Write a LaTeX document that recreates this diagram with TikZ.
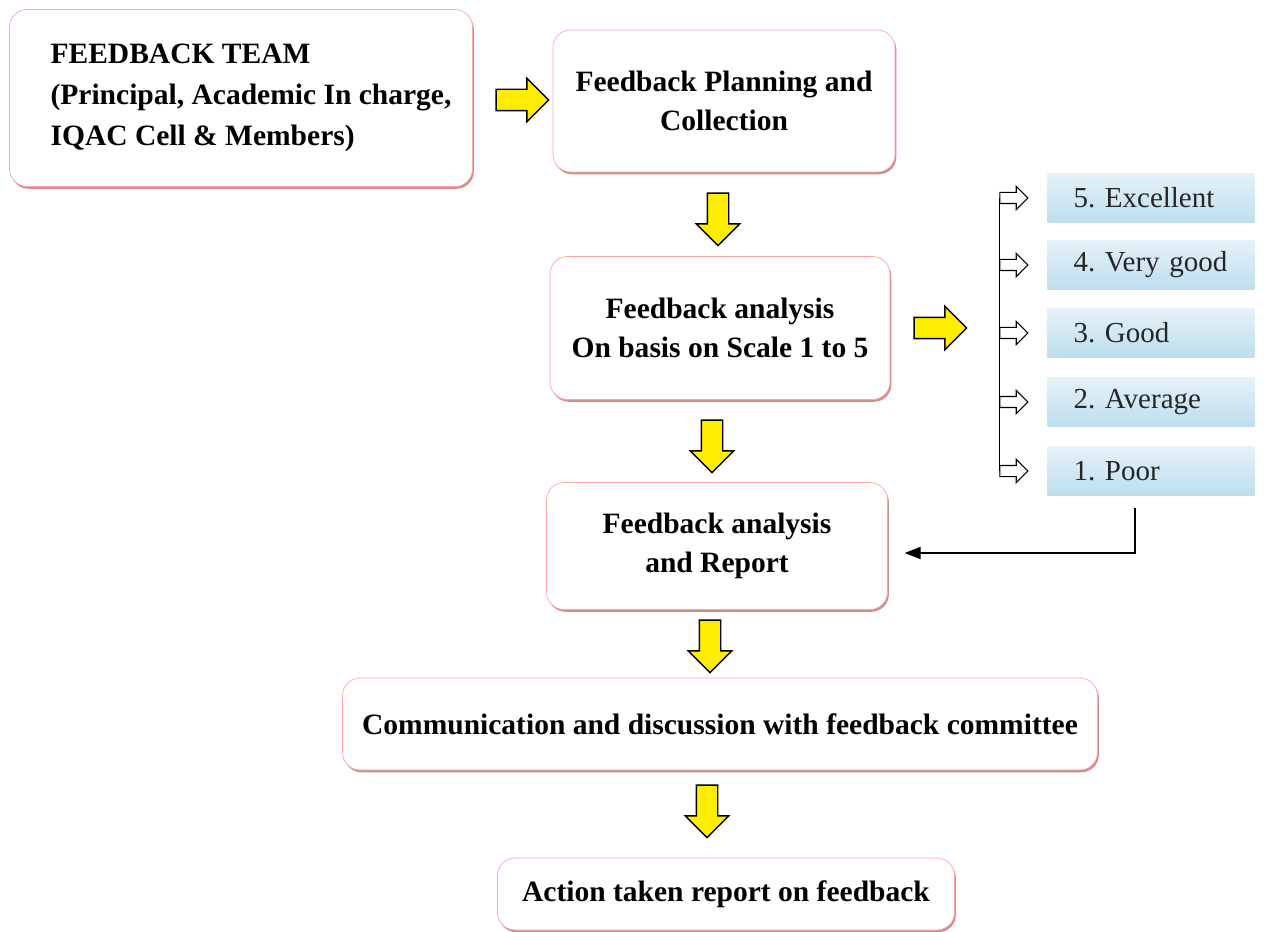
\documentclass[tikz,border=0pt]{standalone}
\usepackage{fontspec}
\setmainfont{Liberation Serif}
\usetikzlibrary{shapes.arrows,shadows,arrows.meta}
\definecolor{scaletop}{RGB}{230,242,248}
\definecolor{scalebot}{RGB}{188,222,238}
\frenchspacing
\tikzset{
  box/.style={draw=red!35, rounded corners=0.35cm, fill=white, align=center,
    font=\bfseries\fontsize{16.8}{22}\selectfont,
    drop shadow={shadow xshift=0.8pt, shadow yshift=-1.3pt, fill=red!60!black, opacity=0.45}},
  yarrow/.style={single arrow, draw=black, thick, fill=yellow!95!orange, inner sep=0.2cm,
    single arrow head extend=0.22cm, minimum height=1.05cm},
  harrow/.style={single arrow, draw=black, semithick, fill=white, inner sep=0.1cm,
    single arrow head extend=0.12cm, minimum height=0.56cm},
  scalebox/.style={minimum width=4.14cm, minimum height=1.0cm, text width=3.1cm, inner sep=0pt,
    align=left, top color=scaletop, bottom color=scalebot, text=black!85,
    font=\fontsize{16.5}{20}\selectfont}
}
\begin{document}
\begin{tikzpicture}[x=0.02cm,y=-0.02cm]
  \useasboundingbox (0,0) rectangle (1264,932);
  \node[box,align=left,minimum width=9.26cm,minimum height=3.54cm,
    font=\bfseries\fontsize{16.8}{23.5}\selectfont] (team) at (241,98)
    {\hspace*{0.4cm}FEEDBACK TEAM\\\hspace*{0.4cm}(Principal, Academic In charge,\\\hspace*{0.4cm}IQAC Cell \& Members)};
  \node[box,minimum width=6.84cm,minimum height=2.84cm] (plan) at (724,101) {Feedback Planning and\\Collection};
  \node[box,minimum width=6.8cm,minimum height=2.86cm] (anal) at (720,328) {Feedback analysis\\On basis on Scale 1 to 5};
  \node[box,minimum width=6.82cm,minimum height=2.54cm] (report) at (717,546) {Feedback analysis\\and Report};
  \node[box,minimum width=15.1cm,minimum height=1.84cm] (comm) at (720,724) {Communication and discussion with feedback committee};
  \node[box,minimum width=9.14cm,minimum height=1.44cm] (action) at (726,894) {Action taken report on feedback};

  \node[yarrow] (y1) at (517,100) {};
  \node[yarrow] (y3) at (935,328) {};
  \foreach \n/\x/\y in {2/718/214, 4/712/441, 5/710/641, 6/707/806}{
    \node[yarrow,shape border rotate=270] (y\n) at (\x,\y) {};
  }

  \foreach \i/\y/\t in {5/198/Excellent, 4/265/Very good, 3/333/Good, 2/402/Average, 1/471/Poor}{
    \node[scalebox] (s\i) at (1151,\y) {\i. \t};
    \node[harrow] (h\i) at (1011,\y) {};
  }
  \draw[semithick] (h5.tail) -- (h1.tail);
  \draw[semithick,-{Triangle[length=9pt,width=7pt]},shorten <=0.24cm]
    ([xshift=-0.32cm]s1.south) |- ([xshift=0.34cm,yshift=-0.14cm]report.east);
\end{tikzpicture}
\end{document}
